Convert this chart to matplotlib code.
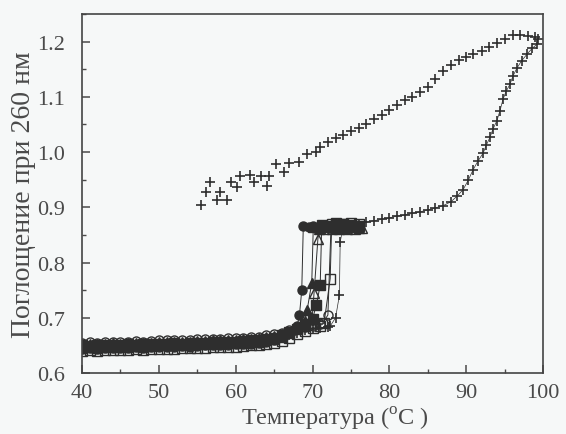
import matplotlib.pyplot as plt
from matplotlib.ticker import MultipleLocator

# temperature grid of the low (pre-transition) part, shared by all samples
temp_low = [40, 41, 42, 43, 44, 45, 46, 47, 48, 49, 50, 51, 52, 53,
            54, 55, 56, 57, 58, 59, 60, 61, 62, 63, 64, 65, 66, 67]

# filled circles
circ_f_low = [0.644, 0.645, 0.644, 0.645, 0.646, 0.645, 0.646, 0.647, 0.646, 0.647,
              0.648, 0.647, 0.648, 0.649, 0.648, 0.649, 0.650, 0.650, 0.651, 0.651,
              0.652, 0.652, 0.653, 0.655, 0.657, 0.660, 0.665, 0.672]
circ_f_t = [68.0, 68.3, 68.6, 68.8, 69.5, 70, 71, 72, 73, 74, 75, 76]
circ_f_a = [0.685, 0.705, 0.750, 0.866, 0.865, 0.867, 0.865, 0.866, 0.867, 0.865, 0.866, 0.865]

# filled triangles
tri_f_low = [0.646, 0.647, 0.646, 0.647, 0.648, 0.647, 0.648, 0.649, 0.648, 0.649,
             0.650, 0.650, 0.650, 0.651, 0.651, 0.652, 0.652, 0.653, 0.653, 0.654,
             0.654, 0.655, 0.656, 0.657, 0.659, 0.662, 0.666, 0.673]
tri_f_t = [68, 69, 69.3, 69.9, 70.1, 71, 72, 73, 74, 75, 76]
tri_f_a = [0.682, 0.695, 0.714, 0.763, 0.864, 0.863, 0.864, 0.862, 0.863, 0.864, 0.863]

# filled squares
sq_f_low = [0.650, 0.649, 0.650, 0.651, 0.650, 0.651, 0.652, 0.651, 0.652, 0.653,
            0.652, 0.653, 0.654, 0.653, 0.654, 0.655, 0.655, 0.656, 0.656, 0.657,
            0.657, 0.658, 0.659, 0.660, 0.662, 0.664, 0.668, 0.674]
sq_f_t = [68, 69, 70, 70.5, 71.0, 71.2, 72, 73, 74, 75, 76]
sq_f_a = [0.680, 0.688, 0.698, 0.723, 0.759, 0.868, 0.867, 0.868, 0.869, 0.868, 0.867]

# open triangles
tri_o_low = [0.652, 0.653, 0.652, 0.653, 0.654, 0.653, 0.654, 0.655, 0.654, 0.655,
             0.656, 0.656, 0.656, 0.657, 0.657, 0.658, 0.658, 0.659, 0.659, 0.660,
             0.660, 0.661, 0.662, 0.663, 0.665, 0.667, 0.670, 0.675]
tri_o_t = [68, 69, 69.9, 70.2, 70.7, 70.9, 71.5, 72.5, 73.5, 74.5, 75.5, 76.5]
tri_o_a = [0.681, 0.686, 0.690, 0.745, 0.843, 0.860, 0.861, 0.860, 0.861, 0.860, 0.861, 0.862]

# open squares
sq_o_low = [0.640, 0.641, 0.640, 0.641, 0.642, 0.641, 0.642, 0.643, 0.642, 0.643,
            0.644, 0.644, 0.644, 0.645, 0.645, 0.646, 0.646, 0.647, 0.647, 0.648,
            0.648, 0.649, 0.650, 0.651, 0.653, 0.655, 0.658, 0.663]
sq_o_t = [68, 69, 70, 71, 71.5, 72.3, 72.5, 73, 74, 75, 76]
sq_o_a = [0.670, 0.676, 0.682, 0.686, 0.690, 0.771, 0.870, 0.871, 0.870, 0.871, 0.870]

# open circles
circ_o_low = [0.655, 0.656, 0.655, 0.656, 0.657, 0.656, 0.657, 0.658, 0.657, 0.658,
              0.659, 0.659, 0.659, 0.660, 0.660, 0.661, 0.661, 0.662, 0.662, 0.663,
              0.663, 0.664, 0.665, 0.666, 0.668, 0.670, 0.673, 0.677]
circ_o_t = [68, 69, 70, 71, 71.3, 72.0, 72.4, 73, 73.5, 74.5, 75.5]
circ_o_a = [0.680, 0.683, 0.686, 0.688, 0.690, 0.705, 0.862, 0.861, 0.862, 0.861, 0.862]

# crosses: heating up to 99 C, then cooling back to 55 C
plus_low = [0.647, 0.648, 0.647, 0.648, 0.649, 0.648, 0.649, 0.650, 0.649, 0.650,
            0.651, 0.651, 0.651, 0.652, 0.652, 0.653, 0.653, 0.654, 0.654, 0.655,
            0.655, 0.656, 0.657, 0.658, 0.660, 0.662, 0.665, 0.669]
plus_heat_t = [68, 69, 70, 71, 72, 72.3, 73.0, 73.5, 73.6, 74.0,
               75, 76, 77, 78, 79, 80, 81, 82, 83, 84, 85, 86, 87, 88,
               88.8, 89.6, 90.3, 90.9, 91.5, 92.2, 92.6, 93.1, 93.5, 94.0,
               94.4, 94.8, 95.2, 95.7, 96.1, 96.6, 97.2, 97.9, 98.6, 99.2, 99.3]
plus_heat_a = [0.673, 0.677, 0.680, 0.682, 0.684, 0.685, 0.700, 0.741, 0.837, 0.866,
               0.867, 0.870, 0.873, 0.876, 0.878, 0.881, 0.884, 0.886, 0.889, 0.892,
               0.895, 0.899, 0.903, 0.910,
               0.920, 0.932, 0.950, 0.968, 0.983, 0.998, 1.012, 1.027, 1.042, 1.057,
               1.075, 1.096, 1.110, 1.123, 1.138, 1.152, 1.165, 1.177, 1.188, 1.195, 1.205]
plus_cool_t = [99.0, 98.0, 97.0, 96.1, 95.0, 94.0, 93.0, 92.0, 90.9, 90.0,
               89.0, 88.0, 87.0, 86.0, 85.0, 84.0, 83.0, 82.0, 81.0, 80.0,
               79.0, 78.0, 77.0, 76.0, 75.0, 74.0, 73.0, 72.0, 71.0, 70.5,
               69.3, 68.3, 67.0, 66.3, 65.3, 64.4, 64.1, 63.3, 62.4, 61.8,
               60.5, 60.2, 59.4, 58.9, 57.9, 57.6, 56.6, 56.2, 55.5]
plus_cool_a = [1.209, 1.211, 1.212, 1.212, 1.205, 1.197, 1.190, 1.183, 1.177, 1.172,
               1.166, 1.157, 1.146, 1.133, 1.117, 1.108, 1.100, 1.094, 1.086, 1.076,
               1.068, 1.060, 1.051, 1.044, 1.038, 1.031, 1.025, 1.019, 1.010, 1.000,
               0.996, 0.982, 0.980, 0.964, 0.979, 0.957, 0.939, 0.957, 0.945, 0.959,
               0.957, 0.936, 0.946, 0.914, 0.927, 0.914, 0.945, 0.927, 0.905]

ink = "#2e2e2e"
text_col = "#4a4a4a"

plt.rcParams["font.family"] = ["Liberation Serif", "DejaVu Serif"]
plt.rcParams["mathtext.fontset"] = "custom"
plt.rcParams["mathtext.rm"] = "Liberation Serif"

fig = plt.figure(figsize=(5.66, 4.35), dpi=100, facecolor="#f6f8f8")
ax = fig.add_axes([0.1449, 0.1402, 0.8145, 0.8253])
ax.set_facecolor("#f6f8f8")

series = [
    (circ_f_low, circ_f_t, circ_f_a, "o", True),
    (tri_f_low, tri_f_t, tri_f_a, "^", True),
    (sq_f_low, sq_f_t, sq_f_a, "s", True),
    (tri_o_low, tri_o_t, tri_o_a, "^", False),
    (sq_o_low, sq_o_t, sq_o_a, "s", False),
    (circ_o_low, circ_o_t, circ_o_a, "o", False),
]
for low, t, a, mk, filled in series:
    ax.plot(temp_low + t, low + a, marker=mk, ms=6.5, lw=0.7, color=ink,
            mec=ink, mfc=ink if filled else "none", mew=1.0)

# heating branch of the "+" sample, with a thin connecting line
ax.plot(temp_low + plus_heat_t, plus_low + plus_heat_a,
        marker="+", ms=7, mew=1.2, lw=0.5, color=ink)
# cooling branch, markers only
ax.plot(plus_cool_t, plus_cool_a, marker="+", ms=7, mew=1.2, ls="none", color=ink)

ax.set_xlim(40, 100)
ax.set_ylim(0.6, 1.25)
ax.set_xticks([40, 50, 60, 70, 80, 90, 100])
ax.set_yticks([0.6, 0.7, 0.8, 0.9, 1.0, 1.1, 1.2])
ax.xaxis.set_minor_locator(MultipleLocator(5))
ax.yaxis.set_minor_locator(MultipleLocator(0.05))
ax.tick_params(which="major", direction="in", length=6, width=1.1, color=text_col,
               labelsize=16, labelcolor=text_col, top=False, right=False)
ax.tick_params(axis="y", which="major", pad=12)
ax.tick_params(axis="x", which="major", pad=7)
ax.tick_params(which="minor", direction="in", length=3, width=1.0, color=text_col,
               top=False, right=False)
for sp in ax.spines.values():
    sp.set_color("#444444")
    sp.set_linewidth(1.2)

ax.set_xlabel("Температура ($^{\\mathregular{o}}$C )", fontsize=17.5, color=text_col)
ax.xaxis.set_label_coords(0.548, -0.088)
ax.set_ylabel("Поглощение при 260 нм", fontsize=20, color=text_col)
ax.yaxis.set_label_coords(-0.1, 0.5)

fig.savefig("out.png", dpi=100, facecolor=fig.get_facecolor())
